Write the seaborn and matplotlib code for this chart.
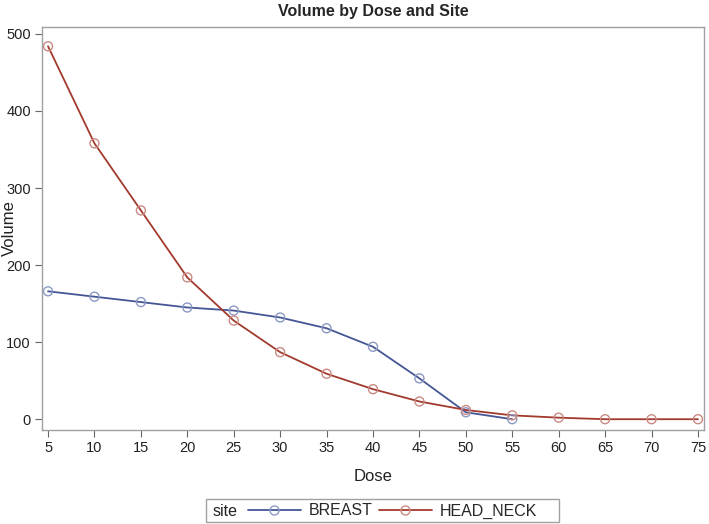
import pandas as pd
import matplotlib.pyplot as plt
import seaborn as sns
from matplotlib.patches import Rectangle

# values
breast_dose = [5, 10, 15, 20, 25, 30, 35, 40, 45, 50, 55]
breast_volume = [166, 159, 152, 145, 141, 132, 118, 94, 53, 9, 0]
head_neck_dose = [5, 10, 15, 20, 25, 30, 35, 40, 45, 50, 55, 60, 65, 70, 75]
head_neck_volume = [484, 358, 271, 184, 128, 87, 59, 39, 23, 12, 5, 2, 0, 0, 0]
sites = ["BREAST", "HEAD_NECK"]
x_ticks = list(range(5, 80, 5))
y_ticks = [0, 100, 200, 300, 400, 500]

data = pd.DataFrame({
    "Dose": breast_dose + head_neck_dose,
    "Volume": breast_volume + head_neck_volume,
    "site": [sites[0]] * len(breast_dose) + [sites[1]] * len(head_neck_dose),
})

sns.set_style("white")
plt.rcParams["font.family"] = ["Liberation Sans", "DejaVu Sans"]

line_colors = {"BREAST": "#445694", "HEAD_NECK": "#A23A2E"}
marker_colors = {"BREAST": "#8C99C4", "HEAD_NECK": "#C98A83"}

W, H = 709, 524
fig = plt.figure(figsize=(W / 100, H / 100), dpi=100)
ax = fig.add_axes([42 / W, 1 - 430 / H, 662 / W, 403 / H])

sns.lineplot(data=data, x="Dose", y="Volume", hue="site", palette=line_colors,
             linewidth=1.3, legend=False, ax=ax)
for s in sites:
    sub = data[data["site"] == s]
    ax.scatter(sub["Dose"], sub["Volume"], s=42, facecolors="none",
               edgecolors=marker_colors[s], linewidths=1.0, zorder=3)

ax.set_xlim(4.35, 75.65)
ax.set_ylim(-14, 509)
ax.set_xticks(x_ticks)
ax.set_yticks(y_ticks)
ax.tick_params(axis="both", direction="out", length=5, width=0.8, color="#666666",
               labelsize=10.5, labelcolor="#222222", pad=3)
ax.tick_params(axis="both", which="both", bottom=True, left=True)
for sp in ax.spines.values():
    sp.set_color("#A0A0A0")
    sp.set_linewidth(1.0)

ax.set_xlabel("Dose", fontsize=12, color="#222222")
ax.xaxis.set_label_coords(0.5, -(469 - 430) / 403)
ax.set_ylabel("Volume", fontsize=12, color="#222222")
ax.yaxis.set_label_coords(-(42 - 17) / 662, 0.5)
ax.set_title("Volume by Dose and Site", fontsize=11.5, fontweight="bold", pad=8)

# legend: "site" label on the left inside one box, SAS style
handles = [plt.Line2D([0, 0.5, 1], [0, 0, 0], color=line_colors[s], linewidth=1.3,
                      marker="o", markersize=6.5, markerfacecolor="none",
                      markeredgecolor=marker_colors[s], markevery=[1])
           for s in sites]
fig.legend(handles, sites, ncol=2, loc="center left",
           bbox_to_anchor=(240 / W, 1 - 511 / H), frameon=False, fontsize=11.5,
           handlelength=3.3, handletextpad=0.5, columnspacing=0.4, borderpad=0)
fig.text(213 / W, 1 - 511 / H, "site", fontsize=11.5, color="#222222",
         ha="left", va="center")
fig.patches.append(Rectangle((206 / W, 1 - 522 / H), 353 / W, 23 / H,
                             transform=fig.transFigure, fill=False,
                             edgecolor="#A0A0A0", linewidth=1.0))

fig.savefig("out.png", dpi=100)
